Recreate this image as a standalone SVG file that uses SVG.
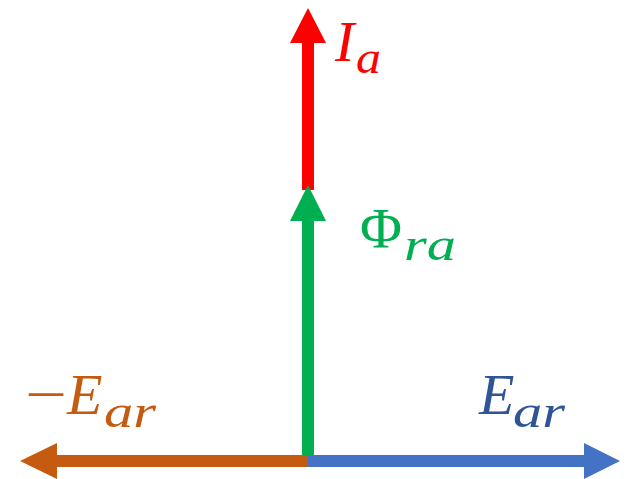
<svg xmlns="http://www.w3.org/2000/svg" width="633" height="479" viewBox="0 0 633 479">
<style>
.lbl{font-family:"Liberation Serif","DejaVu Serif",serif;font-style:italic;font-size:58px}
.sub{font-size:46px}
.up{font-style:normal}
</style>
<rect width="633" height="479" fill="#fff"/>
<g id="connectors">
  <g id="Ia-arrow" fill="#FF0000">
    <rect x="302" y="40" width="12" height="150"/>
    <polygon points="308,8 326,43 290,43"/>
  </g>
  <g id="Phi-arrow" fill="#00B050">
    <rect x="302" y="218" width="12" height="237"/>
    <polygon points="308,185 326,221 290,221"/>
  </g>
  <g id="negEar-arrow" fill="#C55A11">
    <rect x="55" y="455" width="253" height="12"/>
    <polygon points="20,461 57,443 57,479"/>
  </g>
  <g id="Ear-arrow" fill="#4472C4">
    <rect x="308" y="455" width="278" height="12"/>
    <polygon points="620,461 584,443 584,479"/>
  </g>
</g>
<g id="label-Ia" fill="#FF0000">
  <text class="lbl" x="335" y="61">I</text>
  <text class="lbl sub" x="356" y="73" textLength="25" lengthAdjust="spacingAndGlyphs">a</text>
</g>
<g id="label-Phi" fill="#00B050">
  <text class="lbl up" x="360" y="248" textLength="42" lengthAdjust="spacingAndGlyphs">Φ</text>
  <text class="lbl sub" x="404" y="260" textLength="52" lengthAdjust="spacingAndGlyphs">ra</text>
</g>
<g id="label-negEar" fill="#C55A11">
  <text class="lbl up" x="25" y="414" textLength="42" lengthAdjust="spacingAndGlyphs">−</text>
  <text class="lbl" x="67" y="414">E</text>
  <text class="lbl sub" x="104" y="427" textLength="52" lengthAdjust="spacingAndGlyphs">ar</text>
</g>
<g id="label-Ear" fill="#2F5597">
  <text class="lbl" x="479" y="414">E</text>
  <text class="lbl sub" x="513" y="427" textLength="52" lengthAdjust="spacingAndGlyphs">ar</text>
</g>
</svg>
